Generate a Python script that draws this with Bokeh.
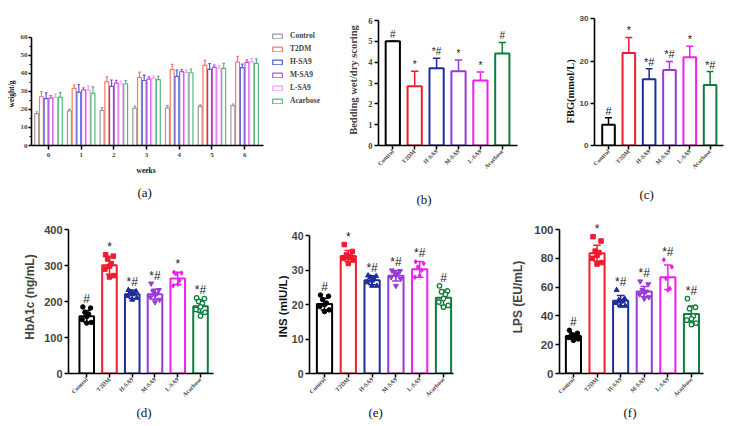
import math
from bokeh.plotting import figure
from bokeh.models import Range1d, FixedTicker, Title, Legend, LegendItem
from bokeh.layouts import row, column
from bokeh.core.properties import value
from bokeh.embed import file_html
from bokeh.resources import INLINE

# ---------------- data ----------------
GROUPS = ["Control", "T2DM", "H-SA9", "M-SA9", "L-SA9", "Acarbose"]
WEEKS = [0, 1, 2, 3, 4, 5, 6]

weight_control = [17.7, 19.2, 19.5, 20.6, 20.8, 21.7, 22.1]
weight_t2dm = [27.0, 31.7, 35.3, 37.7, 42.0, 44.4, 46.2]
weight_hsa9 = [26.0, 29.6, 32.8, 36.0, 38.3, 42.2, 43.1]
weight_msa9 = [26.2, 30.8, 34.6, 36.8, 40.9, 43.3, 46.0]
weight_lsa9 = [26.6, 30.5, 34.2, 37.2, 40.4, 42.8, 46.5]
weight_acarbose = [26.8, 29.0, 34.2, 36.5, 40.3, 42.7, 45.5]

weight_err_control = [1.0, 1.0, 1.5, 1.2, 1.3, 0.8, 0.9]
weight_err_t2dm = [2.8, 1.8, 2.8, 3.0, 3.0, 2.8, 3.2]
weight_err_hsa9 = [3.2, 4.2, 3.5, 3.0, 3.5, 3.2, 2.0]
weight_err_msa9 = [1.5, 1.2, 1.5, 1.2, 1.2, 1.2, 1.5]
weight_err_lsa9 = [2.0, 2.5, 1.5, 1.2, 1.5, 1.5, 1.8]
weight_err_acarbose = [2.5, 3.5, 1.8, 1.8, 2.0, 2.8, 2.5]

bedding_mean = [5.0, 2.85, 3.71, 3.56, 3.12, 4.42]
bedding_err = [0.0, 0.71, 0.48, 0.54, 0.41, 0.53]
bedding_marks = ["#", "*", "*#", "*", "*", "#"]

fbg_mean = [4.9, 21.9, 15.7, 17.9, 20.9, 14.3]
fbg_err = [1.7, 3.7, 2.5, 2.0, 2.6, 3.2]
fbg_marks = ["#", "*", "*#", "*#", "*", "*#"]

hba1c_pts = [
    [185, 182, 170, 165, 158, 150, 142, 140],
    [330, 326, 318, 305, 298, 290, 272, 268],
    [232, 228, 226, 222, 220, 215, 210, 205],
    [250, 232, 228, 222, 218, 212, 205, 198],
    [281, 279, 277, 258, 248, 244],
    [210, 208, 200, 195, 185, 178, 170, 160],
]
hba1c_mean = [159, 301, 220, 220, 264, 187]
hba1c_sd = [16, 25, 12, 14, 17, 17]
hba1c_marks = ["#", "*", "*#", "*#", "*", "*#"]

ins_pts = [
    [22.8, 22.5, 21.5, 20.5, 20.0, 19.5, 18.5, 18.0],
    [37.5, 35.5, 34.5, 34.0, 33.8, 33.5, 33.0, 32.0],
    [28.5, 28.3, 28.0, 27.5, 27.0, 26.5, 25.5, 25.5],
    [30.0, 29.8, 29.5, 29.0, 28.5, 28.0, 27.5, 25.5],
    [32.5, 32.0, 31.0, 30.0, 28.5, 28.0],
    [25.5, 24.0, 23.8, 23.0, 21.8, 20.8, 19.8, 19.3],
]
ins_mean = [20.2, 34.2, 27.1, 28.4, 30.3, 22.0]
ins_sd = [1.7, 1.6, 1.3, 1.5, 2.3, 2.2]
ins_marks = ["#", "*", "*#", "*#", "*#", "#"]

lps_pts = [
    [30, 28, 27, 26, 25.5, 25, 24, 23],
    [95, 92, 85, 84, 82, 80, 77, 76],
    [58, 52, 51, 50, 50, 49, 47, 47],
    [64, 62, 58, 57, 56, 55, 53, 52],
    [79, 74, 66, 59, 58],
    [52, 46, 45, 40, 38, 37, 35, 34],
]
lps_mean = [26, 83.5, 50.6, 56.9, 66.8, 41.3]
lps_sd = [2.0, 5.5, 3.5, 3.5, 8.5, 5.5]
lps_marks = ["#", "*", "*#", "*#", "*#", "*#"]

# ---------------- style ----------------
SERIF = "Liberation Serif"
SANS = "Liberation Sans"
A_COLORS = ["#9a9a9a", "#f47a72", "#4f5fd8", "#c050d8", "#f2a4f2", "#55b87a"]
COLORS = ["#000000", "#f21b2d", "#1e2c9a", "#9a3ad6", "#f01ef0", "#0f7d3c"]
MARKERS = ["circle", "square", "triangle", "inverted_triangle", "diamond", "circle"]
JIT = [-0.17, 0.17, -0.08, 0.08, 0.0, -0.2, 0.2, 0.0]
IDX = list(range(len(GROUPS)))

TOP_H, BOT_H = 207, 218
TOP_MBT, TOP_MBB = 14, 62
BOT_MBT, BOT_MBB = 13, 52


def base_fig(w, h, mbl, mbr, mbt, mbb, xr, yr, ybounds, xbounds=None):
    p = figure(width=w, height=h, x_range=Range1d(*xr), y_range=Range1d(*yr),
               output_backend="svg", toolbar_location=None, title_location=None,
               min_border_left=mbl, min_border_right=mbr,
               min_border_top=mbt, min_border_bottom=mbb)
    p.xgrid.visible = False
    p.ygrid.visible = False
    p.outline_line_color = None
    for ax in (p.xaxis[0], p.yaxis[0]):
        ax.axis_line_width = 1.6
        ax.axis_line_color = "black"
        ax.major_tick_line_width = 1.5
        ax.major_tick_line_color = "black"
        ax.major_tick_in = 0
        ax.major_tick_out = 4
        ax.minor_tick_line_color = None
    p.yaxis.bounds = ybounds
    if xbounds is not None:
        p.xaxis.bounds = xbounds
    return p


def add_title(p, side, text, offset, standoff, size="13px", style="normal", font=SERIF):
    p.add_layout(Title(text=text, align="left", offset=offset, standoff=standoff,
                       text_font=font, text_font_size=size,
                       text_font_style=style, text_color="#111111"), side)


def cat_axes(p, yticks, ytick_font, ytick_size, pad):
    p.xaxis.ticker = FixedTicker(ticks=IDX)
    p.xaxis.major_label_overrides = {i: g for i, g in enumerate(GROUPS)}
    p.xaxis.major_label_orientation = math.pi / 4
    p.xaxis.major_label_text_font = SERIF
    p.xaxis.major_label_text_font_style = "bold"
    p.xaxis.major_label_text_font_size = "6px"
    p.xaxis.major_label_standoff = 1
    if pad > 0:
        p.xaxis.axis_label = " "
        p.xaxis.axis_label_text_font_size = "1px"
        p.xaxis.axis_label_standoff = pad
    p.yaxis.ticker = FixedTicker(ticks=yticks)
    p.yaxis.major_label_text_font = ytick_font
    p.yaxis.major_label_text_font_style = "bold"
    p.yaxis.major_label_text_font_size = ytick_size
    p.yaxis.major_label_standoff = 2


def axis_ylabel(p, text, font, size, standoff):
    p.yaxis.axis_label = text
    p.yaxis.axis_label_text_font = font
    p.yaxis.axis_label_text_font_style = "bold"
    p.yaxis.axis_label_text_font_size = size
    p.yaxis.axis_label_standoff = standoff


def marks(p, tops, labels, size):
    p.text(x=IDX, y=tops, text=labels, text_align="center", text_baseline="bottom",
           y_offset=-1, text_font=value(SANS), text_font_size=size, text_color="#222222")


# ---------------- panel (a) ----------------
pa = base_fig(340, TOP_H, 31, 5, TOP_MBT, TOP_MBB, (-0.52, 8.78), (0, 72.58), (0, 60),
              (-0.52, 6.58))
a_series = [weight_control, weight_t2dm, weight_hsa9, weight_msa9, weight_lsa9, weight_acarbose]
a_errs = [weight_err_control, weight_err_t2dm, weight_err_hsa9, weight_err_msa9,
          weight_err_lsa9, weight_err_acarbose]
A_OFF = [-0.36, -0.216, -0.072, 0.072, 0.216, 0.36]
items = []
for g, vals, errs, col, off in zip(GROUPS, a_series, a_errs, A_COLORS, A_OFF):
    xs = [w + off for w in WEEKS]
    tops = [v + e for v, e in zip(vals, errs)]
    pa.segment(x0=xs, y0=vals, x1=xs, y1=tops, line_color=col, line_width=1.2)
    pa.segment(x0=[x - 0.04 for x in xs], y0=tops, x1=[x + 0.04 for x in xs], y1=tops,
               line_color=col, line_width=1.2)
    r = pa.vbar(x=xs, top=vals, width=0.12, fill_color="white", line_color=col, line_width=1.2)
    items.append(LegendItem(label=g, renderers=[r]))
pa.xaxis.ticker = FixedTicker(ticks=WEEKS)
pa.yaxis.ticker = FixedTicker(ticks=[0, 10, 20, 30, 40, 50, 60],
                              minor_ticks=[5, 15, 25, 35, 45, 55])
pa.yaxis.minor_tick_line_color = "black"
pa.yaxis.minor_tick_in = 0
pa.yaxis.minor_tick_out = 2
pa.yaxis.major_tick_out = 3
for ax in (pa.xaxis[0], pa.yaxis[0]):
    ax.major_label_text_font = SERIF
    ax.major_label_text_font_style = "bold"
    ax.major_label_text_font_size = "7px"
pa.yaxis.major_label_standoff = 1
pa.xaxis.major_label_standoff = 3
legend = Legend(items=items, location=(240, 38), orientation="vertical", padding=0, spacing=0,
                margin=0, glyph_width=12, glyph_height=6, label_height=13, label_standoff=7,
                label_text_font=SERIF, label_text_font_style="bold", label_text_font_size="7.5px",
                border_line_color=None, background_fill_alpha=0)
pa.add_layout(legend)
add_title(pa, "left", "weight/g", 38, 3, size="7.5px", style="bold")
add_title(pa, "below", "weeks", 105, 8, size="7.5px", style="bold")
add_title(pa, "below", "(a)", 106, 8)

# ---------------- panel (b) ----------------
pb = base_fig(215, TOP_H, 38, 38, TOP_MBT, TOP_MBB, (-0.653, 5.694), (0, 6.29), (0, 6))
b_tops = [m + e for m, e in zip(bedding_mean, bedding_err)]
pb.segment(x0=IDX, y0=bedding_mean, x1=IDX, y1=b_tops, line_color=COLORS, line_width=1.5)
pb.segment(x0=[i - 0.17 for i in IDX], y0=b_tops, x1=[i + 0.17 for i in IDX], y1=b_tops,
           line_color=COLORS, line_width=1.5)
pb.vbar(x=IDX, top=bedding_mean, width=0.65, fill_color="white", line_color=COLORS, line_width=2)
marks(pb, b_tops, bedding_marks, "10px")
cat_axes(pb, [0, 1, 2, 3, 4, 5, 6], SERIF, "8.5px", 11)
axis_ylabel(pb, "Bedding wet/dry scoring", SERIF, "10.5px", 6)
add_title(pb, "below", "(b)", 38, 0)

# ---------------- panel (c) ----------------
pc = base_fig(180, TOP_H, 39, 12, TOP_MBT, TOP_MBB, (-0.69, 5.66), (0, 31.02), (0, 30))
c_tops = [m + e for m, e in zip(fbg_mean, fbg_err)]
pc.segment(x0=IDX, y0=fbg_mean, x1=IDX, y1=c_tops, line_color=COLORS, line_width=1.5)
pc.segment(x0=[i - 0.17 for i in IDX], y0=c_tops, x1=[i + 0.17 for i in IDX], y1=c_tops,
           line_color=COLORS, line_width=1.5)
pc.vbar(x=IDX, top=fbg_mean, width=0.62, fill_color="white", line_color=COLORS, line_width=2)
marks(pc, c_tops, fbg_marks, "11px")
cat_axes(pc, [0, 10, 20, 30], SANS, "8px", 6)
add_title(pc, "left", "FBG(mmol/L)", 22, 1, size="10.5px", style="bold")
add_title(pc, "below", "(c)", 45, 0)


# ---------------- panels (d)(e)(f) ----------------
def dot_panel(w, mbl, mbr, xr, yr, yb, pts, mean, sd, labels, yticks, ytick_size, title, t_off,
              cap):
    p = base_fig(w, BOT_H, mbl, mbr, BOT_MBT, BOT_MBB, xr, yr, yb)
    p.vbar(x=IDX, top=mean, width=0.64, fill_color="white", line_color=COLORS, line_width=2)
    lo = [m - s for m, s in zip(mean, sd)]
    hi = [m + s for m, s in zip(mean, sd)]
    p.segment(x0=IDX, y0=lo, x1=IDX, y1=hi, line_color=COLORS, line_width=1.5)
    for ends in (lo, hi):
        p.segment(x0=[i - cap for i in IDX], y0=ends, x1=[i + cap for i in IDX], y1=ends,
                  line_color=COLORS, line_width=1.5)
    for gi, vals in enumerate(pts):
        xs = [gi + JIT[j] for j in range(len(vals))]
        filled = gi != 5
        p.scatter(x=xs, y=vals, marker=MARKERS[gi], size=5 if gi in (2, 3) else 4.5,
                  fill_color=COLORS[gi] if filled else "white", line_color=COLORS[gi],
                  line_width=1.3 if not filled else 1)
    tops = [max(max(v), h_) for v, h_ in zip(pts, hi)]
    marks(p, tops, labels, "12px")
    cat_axes(p, yticks, SANS, ytick_size, 0)
    add_title(p, "below", title, t_off, 0)
    return p


pd_ = dot_panel(265, 68, 52, (-0.8, 5.57), (0, 425), (0, 400), hba1c_pts, hba1c_mean, hba1c_sd,
                hba1c_marks, [0, 100, 200, 300, 400], "11px", "(d)", 68, 0.16)
axis_ylabel(pd_, "HbA1c (ng/mL)", SANS, "12px", 4)
pe = dot_panel(240, 44, 52, (-0.63, 5.42), (0, 44.5), (0, 40), ins_pts, ins_mean, ins_sd,
               ins_marks, [0, 10, 20, 30, 40], "10.5px", "(e)", 59, 0.16)
add_title(pe, "left", "INS (mIU/L)", 36, 0, size="11.5px", style="bold", font=SANS)
pf = dot_panel(230, 54, 32, (-0.59, 5.51), (0, 106.25), (0, 100), lps_pts, lps_mean, lps_sd,
               lps_marks, [0, 20, 40, 60, 80, 100], "11.5px", "(f)", 64, 0.16)
axis_ylabel(pf, "LPS (EU/mL)", SANS, "12px", 6)

layout = column(row(pa, pb, pc), row(pd_, pe, pf))
open("out.html", "w").write(file_html(layout, INLINE))
